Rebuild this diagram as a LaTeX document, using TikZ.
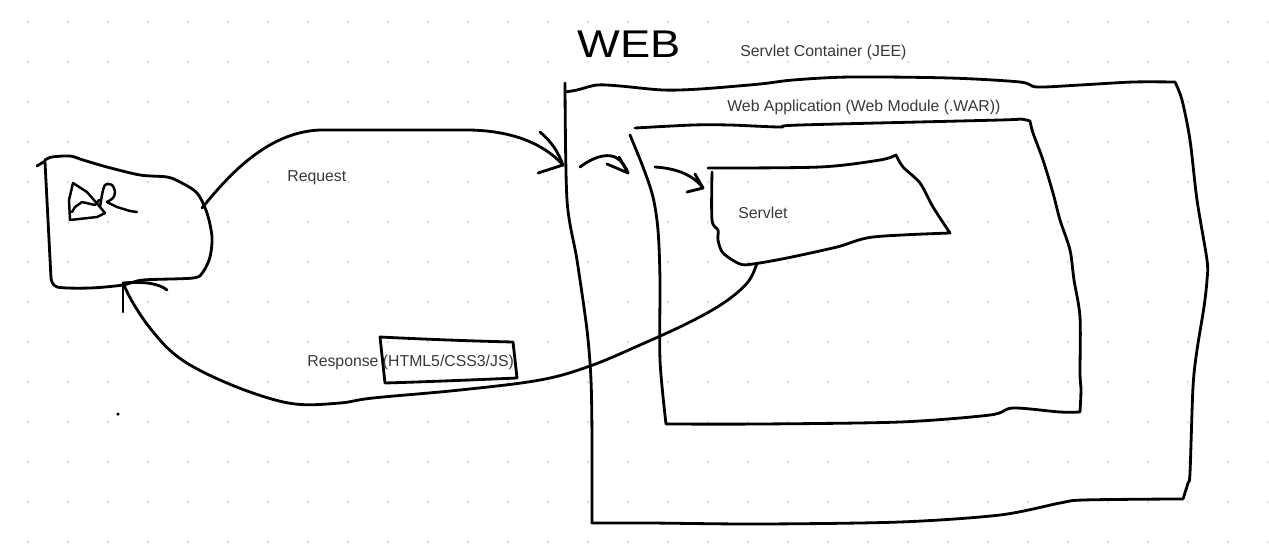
\documentclass[tikz,border=0pt]{standalone}
\usepackage{fontspec}
\setmainfont{Liberation Sans}
\usepackage{graphicx}
\usepackage{xcolor}
\usepackage{tikz}
\usetikzlibrary{calc,positioning}

\definecolor{dotgray}{HTML}{DEDEDE}
\definecolor{textgray}{HTML}{383838}

\begin{document}
\begin{tikzpicture} [x=0.02cm, y=-0.02cm,
		pen/.style={line width=1.6pt, line cap=round, line join=round},
		lbl/.style={font=\fontsize{9}{11}\selectfont, text=textgray, inner sep=0pt, anchor=base west}]
		
		\useasboundingbox (0,0) rectangle (1269,559);
		
		% dotted paper
		\foreach \gx in {0,...,31}
			\foreach \gy in {0,...,13}
				\fill [dotgray] (28+40*\gx, 22+40*\gy) circle (0.85pt);
		
		\coordinate (br_out) at (202,208);
		\coordinate (br_in) at (123,283);
		\coordinate (web_in) at (563,165);
		\coordinate (ctr_a) at (580,167);
		\coordinate (app_in) at (628,173);
		\coordinate (app_a) at (655,167);
		\coordinate (srv_in) at (703,188);
		\coordinate (srv_out) at (757,263);
		
		% browser
		\draw [pen] (37,166) -- (45,161) -- plot [smooth, tension=0.5] coordinates {(45,160) (52,157) (70,156) (83,160) (107,167) (140,175) (167,177) (180,182) (197,193) (207,213) (212,237) (210,257) (203,272) (193,278) (143,280) (123,285) (90,288) (57,287) (51,278)} -- (45,162);
		\draw [pen, line width=1.4pt] (73,183) -- (69,200) -- (70,220) -- (97,217) -- (105,213);
		\draw [pen, line width=1.4pt] (73,183) -- (87,192) -- (100,207) -- (105,213);
		\draw [pen, line width=1.4pt] (72,212) -- (75,207) -- (82,202) -- (95,205) -- (99,200);
		\draw [pen, line width=1.4pt] plot [smooth, tension=0.5] coordinates {(100,207) (102,195) (105,185) (112,185) (115,192) (113,198) (107,202)} -- (117,207) -- (130,211) -- (137,212);
		\fill (118,414) circle (1pt);
		
		% container
		\node (web_lbl) [font=\fontsize{22}{26}\selectfont, inner sep=0pt, anchor=base west] at (577,57) {\scalebox{1.17}[1]{WEB}};
		\draw [pen] plot [smooth, tension=0.5] coordinates {(565,92) (577,90) (597,85) (620,86) (663,90) (700,89) (760,84) (793,80) (850,77) (950,78) (1020,82) (1037,87) (1080,85) (1133,82) (1175,82)}
			-- plot [smooth, tension=0.5] coordinates {(1175,82) (1182,100) (1190,140) (1197,200) (1207,260) (1207,280) (1204,307) (1197,350) (1193,387) (1190,473) (1188,483) (1183,499)}
			-- plot [smooth, tension=0.5] coordinates {(1183,499) (1170,499) (1083,500) (1060,503) (1000,515) (900,522) (760,524) (650,523) (592,523)}
			-- plot [smooth, tension=0.5] coordinates {(592,523) (592,440) (591,380) (587,330) (577,260) (567,200) (565,83)};
		\node (lbl_ctr) [lbl] at (740,56) {Servlet Container (JEE)};
		
		% web application
		\draw [pen] plot [smooth, tension=0.5] coordinates {(635,128) (693,125) (730,125) (780,127) (800,125) (1000,120) (1020,119) (1030,121)}
			-- plot [smooth, tension=0.5] coordinates {(1030,121) (1033,133) (1043,160) (1053,193) (1060,220) (1070,250) (1074,280) (1080,317) (1080,373) (1081,390) (1080,412)}
			-- plot [smooth, tension=0.5] coordinates {(1080,412) (1060,412) (1013,408) (990,415) (900,422) (760,424) (666,424)}
			-- plot [smooth, tension=0.5] coordinates {(666,424) (660,360) (660,280) (658,230) (653,197) (643,167) (630,135)};
		\node (lbl_app) [lbl] at (727,111) {Web Application (Web Module (.WAR))};
		
		% servlet
		\draw [pen] plot [smooth, tension=0.5] coordinates {(708,168) (820,167) (880,160) (896,155)}
			-- plot [smooth, tension=0.5] coordinates {(896,155) (903,167) (920,183) (933,207) (950,233)}
			-- plot [smooth, tension=0.5] coordinates {(950,233) (873,237) (837,247) (787,258) (753,264) (740,264) (723,253) (718,240) (718,230) (712,220) (712,172)};
		\node (lbl_srv) [lbl] at (738,218) {Servlet};
		
		% request
		\draw [pen] (br_out) .. controls (225,180) and (265,132) .. (320,130) -- (470,130) .. controls (515,131) and (545,145) .. (web_in);
		\draw [pen] (540,132) .. controls (552,142) and (558,152) .. (web_in);
		\draw [pen] (538,173) -- (web_in);
		\node (lbl_req) [lbl] at (287,181) {Request};
		
		\draw [pen] (ctr_a) .. controls (592,158) and (605,153) .. (615,157) .. controls (622,161) and (626,167) .. (app_in);
		\draw [pen] (607,164) -- (app_in);
		\draw [pen] (619,157) -- (app_in);
		
		\draw [pen] (app_a) .. controls (672,168) and (692,173) .. (srv_in);
		\draw [pen] (687,192) -- (srv_in);
		\draw [pen] (695,174) -- (srv_in);
		
		% response
		\draw [pen] plot [smooth, tension=0.6] coordinates {(srv_out) (748,282) (725,302) (690,322) (640,345) (590,366) (540,380) (460,390) (373,398) (340,403) (295,404) (250,392) (203,372) (173,353) (150,328) (133,303) (br_in)};
		\draw [pen] (br_in) -- (123,312);
		\draw [pen] (br_in) .. controls (145,281) and (160,284) .. (167,290);
		\draw [pen] (380,337) .. controls (420,339) and (470,341) .. (513,342) -- (515,360) -- (517,378) .. controls (470,380) and (420,382) .. (385,383) -- cycle;
		\node (lbl_resp) [lbl] at (307,366) {Response (HTML5/CSS3/JS)};
		
\end{tikzpicture}
\end{document}
